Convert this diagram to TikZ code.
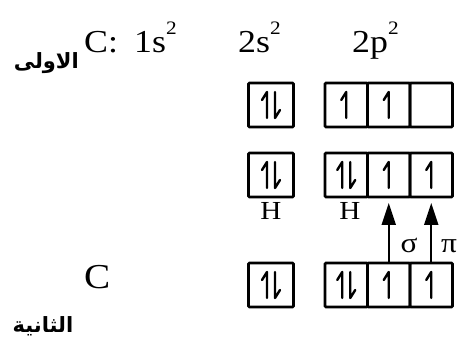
\documentclass[tikz,border=0pt]{standalone}
\usepackage{fontspec}
\setmainfont{Liberation Serif}[FakeStretch=1.12]
\newfontfamily\arabicfont[Script=Arabic]{DejaVu Sans}
\TeXXeTstate=1
\usetikzlibrary{positioning,arrows.meta}

\newcommand{\sups}[1]{\raisebox{18pt}{\fontsize{19}{21}\selectfont #1}}

\tikzset{
  spinup/.pic={
    \draw[line width=2.4pt, line cap=round, line join=round] (0,13) -- (0,-13) -- (-5,-5);
  },
  spindown/.pic={
    \draw[line width=2.4pt, line cap=round, line join=round] (0,-13) -- (0,13) -- (5,5);
  },
  spinpair/.pic={
    \pic at (-4,0) {spinup};
    \pic at (4,0) {spindown};
  }
}

\begin{document}
\begin{tikzpicture}[x=1pt, y=-1pt,
  orbital/.style={draw, line width=2.8pt, rounded corners=1pt, outer sep=0pt,
    inner sep=0pt, minimum height=44pt},
  sbox/.style={orbital, minimum width=45pt},
  pcell/.style={orbital, minimum width=42.5pt},
  conf/.style={anchor=base west, inner sep=0pt, font=\fontsize{32}{36}\selectfont},
  lbl/.style={anchor=base, inner sep=0pt, font=\fontsize{26}{29}\selectfont},
  arab/.style={inner sep=0pt, font=\arabicfont\bfseries\fontsize{21}{25}\selectfont},
  bond/.style={-{Triangle[length=22pt,width=14pt]}, line width=2.2pt, shorten >=6pt}
]
\useasboundingbox (0,0) rectangle (461,347);

% electron configuration
\node[arab, anchor=east] (first) at (79,63) {\beginR الاولى\endR};
\node[conf] (cfg) at (84,53) {C:};
\node[conf] (ones) at (134,53) {1s\sups{2}};
\node[conf] (twos) at (238,53) {2s\sups{2}};
\node[conf] (twop) at (352,53) {2p\sups{2}};

% ground state
\node[sbox] (r1s) at (271,105) {};
\node[pcell] (r1p1) at (346.25,105) {};
\node[pcell, right=0pt of r1p1] (r1p2) {};
\node[pcell, right=0pt of r1p2] (r1p3) {};
\pic at (r1s) {spinpair};
\pic at (r1p1) {spinup};
\pic at (r1p2) {spinup};

% bonded with H
\node[sbox] (r2s) at (271,175) {};
\node[pcell] (r2p1) at (346.25,175) {};
\node[pcell, right=0pt of r2p1] (r2p2) {};
\node[pcell, right=0pt of r2p2] (r2p3) {};
\pic at (r2s) {spinpair};
\pic at (r2p1) {spinpair};
\pic at (r2p2) {spinup};
\pic at (r2p3) {spinup};
\node[lbl] (h1) at (271,220) {H};
\node[lbl] (h2) at (350,220) {H};

% second C
\node[conf, font=\fontsize{35}{38}\selectfont] (c2) at (84,289) {C};
\node[sbox] (r3s) at (271,285) {};
\node[pcell] (r3p1) at (346.25,285) {};
\node[pcell, right=0pt of r3p1] (r3p2) {};
\node[pcell, right=0pt of r3p2] (r3p3) {};
\pic at (r3s) {spinpair};
\pic at (r3p1) {spinpair};
\pic at (r3p2) {spinup};
\pic at (r3p3) {spinup};
\node[arab] (second) at (43,326) {\beginR الثانية\endR};

% sigma and pi bonds
\draw[bond] (r3p2.north) -- (r2p2.south);
\draw[bond] (r3p3.north) -- (r2p3.south);
\node[lbl, font=\fontsize{28}{30}\selectfont] (sig) at (409,253) {σ};
\node[lbl, font=\fontsize{28}{30}\selectfont] (pi) at (449,253) {π};
\end{tikzpicture}
\end{document}
